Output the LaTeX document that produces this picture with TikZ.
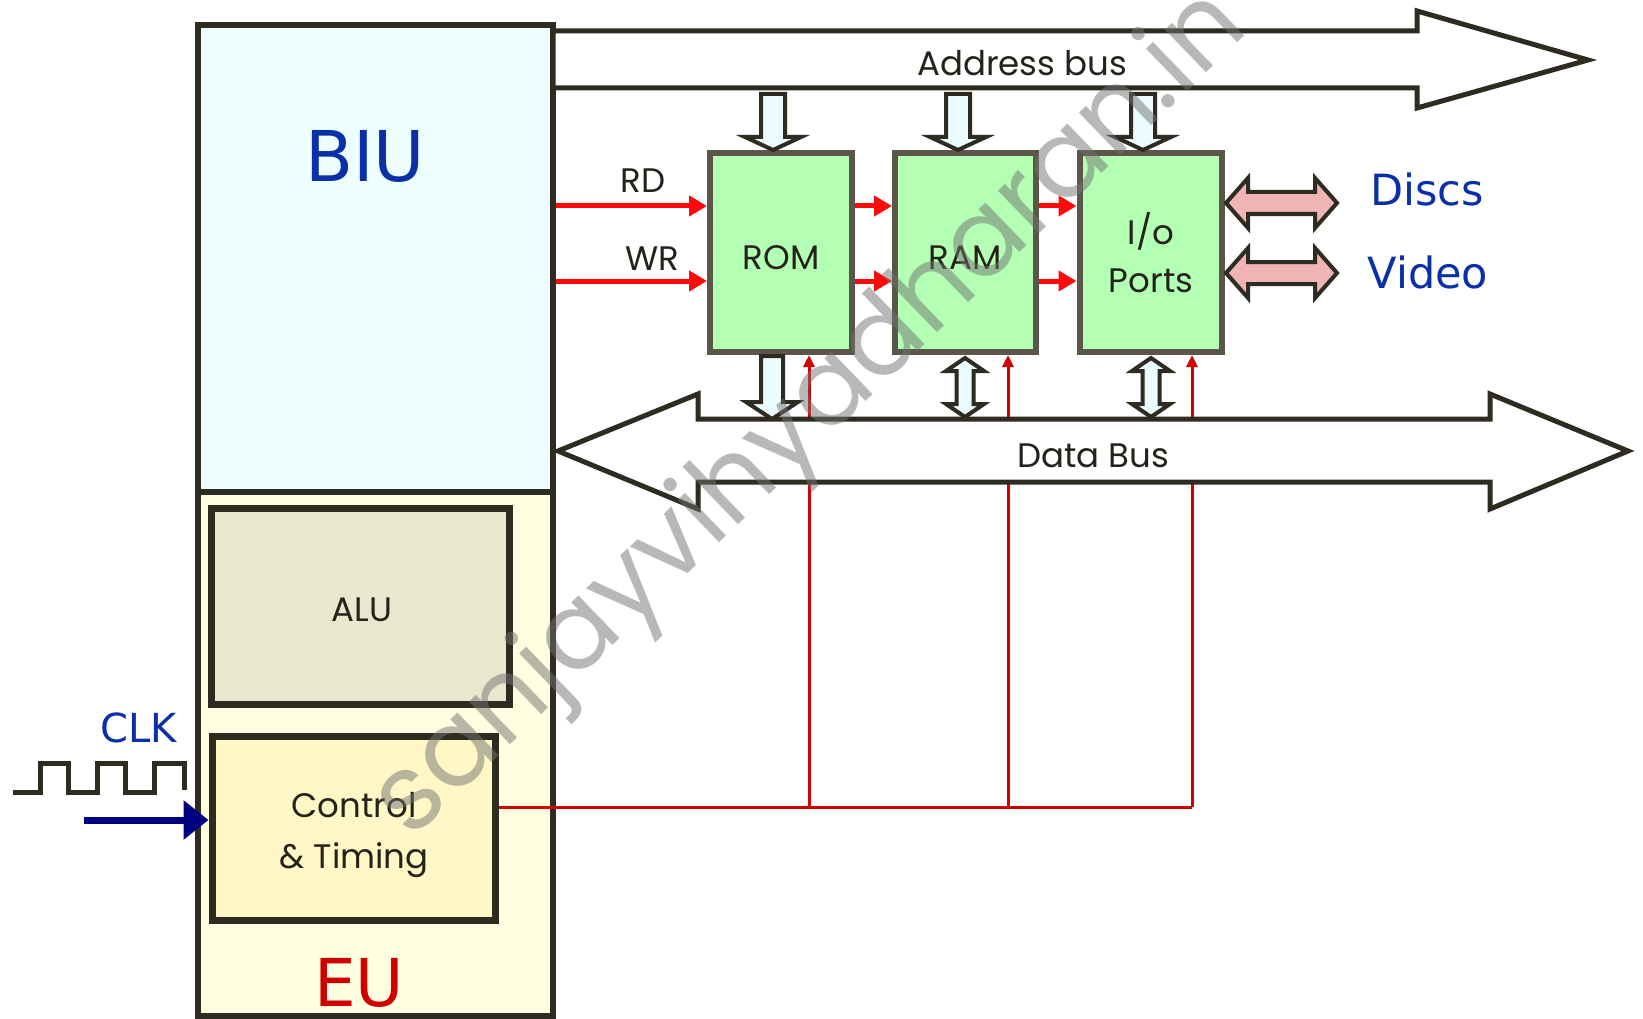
\documentclass[tikz,border=0pt]{standalone}
\usepackage{fontspec}
\usetikzlibrary{arrows.meta,calc}
\newfontfamily\geofont{Poppins}
\newfontfamily\comfont{DejaVu Sans}
\definecolor{biufill}{HTML}{EEFEFF}
\definecolor{eufill}{HTML}{FFFEE0}
\definecolor{alufill}{HTML}{EAE7CF}
\definecolor{ctrlfill}{HTML}{FFF8C6}
\definecolor{memfill}{HTML}{B3FFB3}
\definecolor{memline}{HTML}{5B5649}
\definecolor{darkline}{HTML}{2E2B20}
\definecolor{sigred}{HTML}{FF0A0A}
\definecolor{ctlred}{HTML}{D40000}
\definecolor{labblue}{HTML}{0A30A8}
\definecolor{clknavy}{HTML}{000080}
\definecolor{pinkfill}{HTML}{F0B4B4}
\definecolor{cyanfill}{HTML}{EAFCFF}
\definecolor{txtdark}{HTML}{25221A}
\definecolor{eured}{HTML}{D00000}
\newcommand\blkdown[6]{\filldraw[hollowarrow] (#1-#5,#2) -- (#1+#5,#2) -- (#1+#5,#3) -- (#1+#6,#3) -- (#1,#4) -- (#1-#6,#3) -- (#1-#5,#3) -- cycle;}
\newcommand\blkvdouble[6]{\filldraw[hollowarrow] (#1,#2) -- (#1+#6,#2+#4) -- (#1+#5,#2+#4) -- (#1+#5,#3-#4) -- (#1+#6,#3-#4) -- (#1,#3) -- (#1-#6,#3-#4) -- (#1-#5,#3-#4) -- (#1-#5,#2+#4) -- (#1-#6,#2+#4) -- cycle;}
\newcommand\blkhdouble[6]{\filldraw[pinkarrow] (#1,#3) -- (#1+#4,#3-#6) -- (#1+#4,#3-#5) -- (#2-#4,#3-#5) -- (#2-#4,#3-#6) -- (#2,#3) -- (#2-#4,#3+#6) -- (#2-#4,#3+#5) -- (#1+#4,#3+#5) -- (#1+#4,#3+#6) -- cycle;}
\tikzset{
  unitbox/.style={rectangle, draw=darkline, line width=6pt, inner sep=0pt},
  inbox/.style={rectangle, draw=darkline, line width=7pt, inner sep=0pt},
  membox/.style={rectangle, draw=memline, fill=memfill, line width=6pt, inner sep=0pt, minimum height=199pt},
  geo/.style={font=\geofont\fontsize{34}{40}\selectfont, text=txtdark, inner sep=0pt, anchor=base},
  bigcom/.style={font=\comfont\fontsize{70}{80}\selectfont, inner sep=0pt, anchor=base},
  midcom/.style={font=\comfont\fontsize{43}{50}\selectfont, text=labblue, inner sep=0pt, anchor=base},
  sig/.style={draw=sigred, line width=5pt, -{Triangle[length=18pt,width=20pt]}},
  ctl/.style={draw=ctlred, line width=3pt},
  ctlarrow/.style={draw=ctlred, line width=3pt, -{Triangle[length=12pt,width=11pt]}},
  bus/.style={fill=white, draw=darkline, line width=5pt, line join=miter},
  hollowarrow/.style={fill=cyanfill, draw=darkline, line width=4pt, line join=miter},
  pinkarrow/.style={fill=pinkfill, draw=darkline, line width=4pt, line join=miter},
  wmark/.style={font=\geofont\fontsize{108}{112}\selectfont, text=black!55, opacity=0.5, inner sep=0pt}
}
\begin{document}
\begin{tikzpicture}[x=1pt, y=-1pt]
\useasboundingbox (0,0) rectangle (1643,1019);
\fill[white] (0,0) rectangle (1643,1019);
% units
\node[unitbox, fill=biufill, minimum width=355pt, minimum height=467pt] (biu) at (375.5,258.5) {};
\node[unitbox, fill=eufill, minimum width=355pt, minimum height=524pt] (eu) at (375.5,754) {};
\node[inbox, fill=alufill, minimum width=298pt, minimum height=196pt] (alu) at (360,606) {};
\node[inbox, fill=ctrlfill, minimum width=283pt, minimum height=184pt] (ctrl) at (353.5,828) {};
% memory and ports
\node[membox, minimum width=142pt] (rom) at (781,252.5) {};
\node[membox, minimum width=141pt] (ram) at (965.5,252.5) {};
\node[membox, minimum width=142pt] (io) at (1150.5,252.5) {};
% RD / WR signals
\coordinate (rdy) at (0,206);
\coordinate (wry) at (0,281);
\draw[sig] (biu.east |- rdy) -- (rdy -| rom.west);
\draw[sig] (biu.east |- wry) -- (wry -| rom.west);
\draw[sig] (rdy -| rom.east) -- (rdy -| ram.west);
\draw[sig] (wry -| rom.east) -- (wry -| ram.west);
\draw[sig] (rdy -| ram.east) -- (rdy -| io.west);
\draw[sig] (wry -| ram.east) -- (wry -| io.west);
% control lines
\coordinate (c1) at (809,807);
\coordinate (c2) at (1008,807);
\coordinate (c3) at (1192,807);
\draw[ctl] (ctrl.east |- c1) -- (c3);
\draw[ctlarrow] (c1) -- (c1 |- rom.south);
\draw[ctlarrow] (c2) -- (c2 |- ram.south);
\draw[ctlarrow] (c3) -- (c3 |- io.south);
% buses
\filldraw[bus] (553,31) -- (1417,31) -- (1417,11) -- (1588,60) -- (1417,108) -- (1417,88) -- (553,88) -- cycle;
\filldraw[bus] (558,451) -- (698,394) -- (698,419) -- (1490,419) -- (1490,394) -- (1628,451) -- (1490,509) -- (1490,482) -- (698,482) -- (698,509) -- cycle;
% block arrows
\blkdown{773}{94}{137}{150}{12}{28}
\blkdown{958}{94}{137}{150}{12}{28}
\blkdown{1143}{94}{137}{150}{12}{28}
\blkdown{772}{356}{402}{419}{11}{26}
\blkvdouble{965}{358}{417}{13}{8.5}{19}
\blkvdouble{1151}{358}{417}{13}{8.5}{19}
\blkhdouble{1226}{1337}{203}{22}{11}{25}
\blkhdouble{1226}{1337}{273}{22}{11}{25}
% clock
\draw[darkline, line width=5pt, line join=miter] (13,792) -- (40,792) -- (40,763) -- (68,763) -- (68,792) -- (97,792) -- (97,763) -- (125,763) -- (125,792) -- (154,792) -- (154,763) -- (184,763) -- (184,790);
\coordinate (clkin) at (84,820);
\draw[clknavy, line width=7pt, -{Triangle[length=25pt,width=38pt]}] (clkin) -- (clkin -| ctrl.west);
% labels
\node[bigcom, text=labblue] (biulbl) at (365,182) {BIU};
\node[bigcom, text=eured, font=\comfont\fontsize{66}{76}\selectfont] (eulbl) at (359,1006) {EU};
\node[midcom, font=\comfont\fontsize{40}{46}\selectfont] (clklbl) at (139,742) {CLK};
\node[midcom] (discs) at (1427,205) {Discs};
\node[midcom] (video) at (1428,288) {Video};
\node[geo] (alulbl) at (362,621) {ALU};
\node[geo] (ctl1) at (354,817) {Control};
\node[geo] (ctl2) at (354,868) {\& Timing};
\node[geo] (romlbl) at (781,269) {ROM};
\node[geo] (ramlbl) at (965,269) {RAM};
\node[geo] (iolbl1) at (1151,244) {I/o};
\node[geo] (iolbl2) at (1151,292) {Ports};
\node[geo] (rdlbl) at (643,193) {RD};
\node[geo] (wrlbl) at (652,270) {WR};
\node[geo] (addrlbl) at (1022,76) {Address bus};
\node[geo] (datalbl) at (1093,467) {Data Bus};
% watermark
\node[wmark, rotate=44] (wm) at (812,416) {sanjayvihyadharan.in};
\end{tikzpicture}
\end{document}
